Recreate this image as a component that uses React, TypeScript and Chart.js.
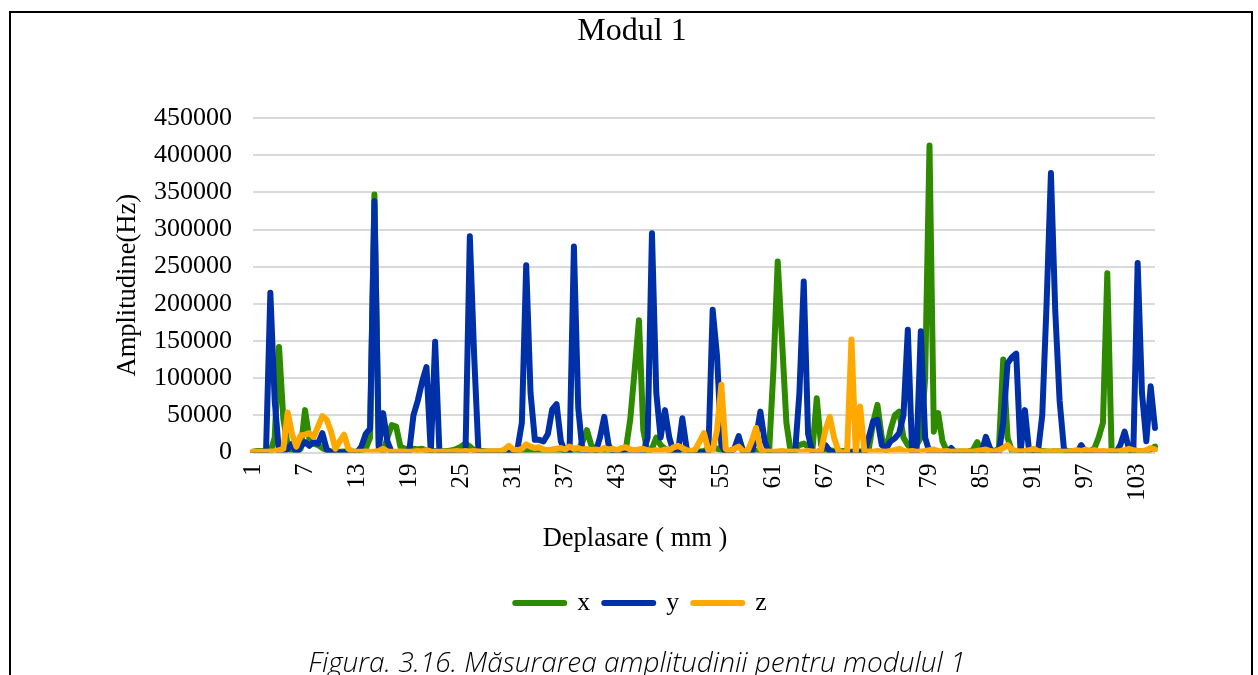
import React, { useEffect, useRef } from 'react';
import { Chart, registerables } from 'chart.js';

Chart.register(...registerables);

// Deplasare (mm) categories, step 0.5 mm
const CATEGORIES = [
  1, 1.5, 2, 2.5, 3, 3.5, 4, 4.5, 5, 5.5, 6, 6.5, 7, 7.5, 8, 8.5, 9, 9.5, 10, 10.5,
  11, 11.5, 12, 12.5, 13, 13.5, 14, 14.5, 15, 15.5, 16, 16.5, 17, 17.5, 18, 18.5, 19, 19.5, 20, 20.5,
  21, 21.5, 22, 22.5, 23, 23.5, 24, 24.5, 25, 25.5, 26, 26.5, 27, 27.5, 28, 28.5, 29, 29.5, 30, 30.5,
  31, 31.5, 32, 32.5, 33, 33.5, 34, 34.5, 35, 35.5, 36, 36.5, 37, 37.5, 38, 38.5, 39, 39.5, 40, 40.5,
  41, 41.5, 42, 42.5, 43, 43.5, 44, 44.5, 45, 45.5, 46, 46.5, 47, 47.5, 48, 48.5, 49, 49.5, 50, 50.5,
  51, 51.5, 52, 52.5, 53, 53.5, 54, 54.5, 55, 55.5, 56, 56.5, 57, 57.5, 58, 58.5, 59, 59.5, 60, 60.5,
  61, 61.5, 62, 62.5, 63, 63.5, 64, 64.5, 65, 65.5, 66, 66.5, 67, 67.5, 68, 68.5, 69, 69.5, 70, 70.5,
  71, 71.5, 72, 72.5, 73, 73.5, 74, 74.5, 75, 75.5, 76, 76.5, 77, 77.5, 78, 78.5, 79, 79.5, 80, 80.5,
  81, 81.5, 82, 82.5, 83, 83.5, 84, 84.5, 85, 85.5, 86, 86.5, 87, 87.5, 88, 88.5, 89, 89.5, 90, 90.5,
  91, 91.5, 92, 92.5, 93, 93.5, 94, 94.5, 95, 95.5, 96, 96.5, 97, 97.5, 98, 98.5, 99, 99.5, 100, 100.5,
  101, 101.5, 102, 102.5, 103, 103.5, 104, 104.5, 105,
];

const TICK_LABELS = ['1', '7', '13', '19', '25', '31', '37', '43', '49', '55', '61', '67', '73', '79', '85', '91', '97', '103'];

const SERIES_X = [
  1000, 2000, 2000, 1500, 0, 20000, 142000, 45000, 10000, 0,
  0, 5000, 57000, 18000, 12000, 10000, 6000, 3000, 1500, 1000,
  1000, 1500, 1000, 1000, 1500, 3000, 5000, 20000, 347000, 10000,
  0, 20000, 37000, 35000, 8000, 5000, 5000, 5000, 4000, 5000,
  3000, 2000, 2000, 1500, 2000, 2000, 3000, 5000, 8000, 12000,
  8000, 3000, 2000, 2000, 1500, 1000, 1500, 1000, 2000, 1500,
  2000, 1000, 1500, 2000, 3000, 2000, 3000, 2000, 1500, 2000,
  2000, 1500, 1000, 1500, 2000, 3000, 15000, 30000, 10000, 2000,
  1500, 2000, 1000, 1500, 1000, 2000, 5000, 45000, 110000, 178000,
  30000, 0, 5000, 20000, 10000, 5000, 3000, 2000, 3000, 2000,
  1500, 2000, 1000, 1500, 2000, 5000, 8000, 5000, 3000, 2000,
  2000, 5000, 20000, 3000, 2000, 1500, 2000, 1500, 1000, 0,
  110000, 257000, 150000, 40000, 0, 5000, 10000, 12000, 8000, 3000,
  73000, 10000, 2000, 3000, 2000, 1500, 2000, 1500, 1000, 2000,
  1500, 2000, 5000, 40000, 64000, 20000, 3000, 30000, 50000, 55000,
  20000, 10000, 5000, 10000, 20000, 100000, 413000, 28000, 53000, 15000,
  2000, 1500, 1000, 1500, 1000, 1500, 3000, 14000, 2000, 1500,
  1000, 2000, 5000, 125000, 20000, 2000, 1500, 1000, 1500, 1000,
  1500, 1000, 2000, 1500, 1000, 2000, 1500, 1000, 1500, 2000,
  1500, 1000, 1500, 2000, 5000, 20000, 40000, 241000, 0, 1500,
  2000, 1500, 2000, 3000, 2000, 1500, 2000, 4000, 8000,
];

const SERIES_Y = [
  0, 0, 0, 0, 215000, 70000, 0, 0, 5000, 12000,
  0, 8000, 14000, 9000, 14000, 12000, 26000, 4000, 0, 0,
  0, 0, 0, 0, 0, 8000, 25000, 32000, 338000, 5000,
  53000, 15000, 0, 0, 0, 0, 0, 50000, 70000, 95000,
  115000, 0, 149000, 0, 0, 0, 0, 0, 0, 0,
  291000, 130000, 0, 0, 0, 0, 0, 0, 0, 0,
  0, 5000, 40000, 252000, 80000, 17000, 17000, 15000, 25000, 58000,
  65000, 15000, 0, 0, 277000, 60000, 0, 0, 0, 0,
  20000, 48000, 10000, 0, 0, 0, 0, 0, 0, 0,
  0, 20000, 295000, 80000, 20000, 57000, 20000, 0, 0, 46000,
  5000, 0, 0, 0, 0, 0, 192000, 130000, 10000, 0,
  0, 5000, 22000, 0, 0, 0, 20000, 55000, 15000, 0,
  0, 0, 0, 0, 0, 0, 80000, 230000, 25000, 0,
  0, 3000, 10000, 2000, 0, 0, 0, 0, 0, 0,
  0, 0, 20000, 42000, 44000, 10000, 5000, 15000, 19000, 26000,
  50000, 165000, 0, 0, 163000, 20000, 0, 0, 0, 0,
  0, 6000, 0, 0, 0, 0, 0, 0, 0, 21000,
  5000, 0, 0, 40000, 120000, 128000, 133000, 0, 57000, 0,
  0, 0, 50000, 200000, 376000, 190000, 70000, 5000, 0, 0,
  0, 10000, 0, 0, 0, 0, 0, 0, 0, 0,
  10000, 28000, 5000, 0, 255000, 80000, 15000, 89000, 33000,
];

const SERIES_Z = [
  1000, 1000, 1000, 1000, 1500, 1500, 3000, 5000, 54000, 25000,
  8000, 23000, 24000, 26000, 21000, 35000, 49000, 44000, 28000, 5000,
  15000, 24000, 5000, 1500, 1000, 1000, 1500, 1000, 1000, 2000,
  5000, 1500, 1000, 1000, 1500, 1000, 1000, 1500, 2000, 1500,
  3000, 1500, 1000, 1000, 1500, 1000, 1500, 2000, 1500, 2000,
  1500, 2000, 1500, 1000, 1500, 2000, 1500, 2000, 4000, 9000,
  4000, 3000, 5000, 11000, 8000, 6000, 7000, 4000, 3000, 4000,
  5000, 6000, 4000, 8000, 5000, 6000, 4000, 5000, 3000, 4000,
  3000, 6000, 4000, 5000, 3000, 6000, 7000, 4000, 3000, 4000,
  5000, 3000, 2000, 3000, 2000, 4000, 3000, 7000, 9000, 6000,
  3000, 2000, 4000, 15000, 26000, 3000, 3000, 30000, 91000, 5000,
  1000, 5000, 8000, 2000, 1000, 15000, 33000, 5000, 1000, 1500,
  1000, 1500, 2000, 1500, 1000, 1500, 1000, 1500, 2000, 1500,
  1000, 3000, 30000, 48000, 20000, 2000, 0, 0, 152000, 0,
  62000, 1000, 1500, 1000, 2000, 1500, 1000, 2000, 3000, 5000,
  2000, 1500, 2000, 1000, 1500, 2000, 3000, 4000, 2000, 1500,
  2000, 1000, 1500, 1000, 2000, 1500, 1000, 2000, 3000, 4000,
  2000, 1500, 3000, 6000, 10000, 4000, 2000, 1500, 2000, 3000,
  5000, 2000, 1500, 1000, 1500, 2000, 1500, 1000, 1500, 2000,
  3000, 2000, 4000, 2000, 3000, 1500, 2000, 1500, 2000, 1500,
  2000, 3000, 5000, 3000, 2000, 1500, 3000, 6000, 4000,
];

const SERIES_NAMES = ['x', 'y', 'z'];
const SERIES_COLORS = ['#2E8B00', '#0030A8', '#FFA800'];
const Y_MAX = 450000;
const Y_STEP = 50000;
const TITLE = 'Modul 1';
const X_TITLE = 'Deplasare ( mm )';
const Y_TITLE = 'Amplitudine(Hz)';
const CAPTION = 'Figura. 3.16. Măsurarea amplitudinii pentru modulul 1';

const SERIF = '"Liberation Serif", "Times New Roman", serif';
const LINE_W = 6;

const xTitlePlugin = {
  id: 'xTitleCenter',
  afterDraw(chart: any) {
    const ctx = chart.ctx;
    ctx.save();
    ctx.font = `26.5px ${SERIF}`;
    ctx.fillStyle = '#000';
    ctx.textAlign = 'center';
    ctx.textBaseline = 'middle';
    ctx.fillText(X_TITLE, 635, 539);
    ctx.restore();
  },
};

// nudge the legend row to the right, as in the reference
const legendShiftPlugin = {
  id: 'legendShift',
  afterUpdate(chart: any) {
    const lg = chart.legend;
    if (lg) {
      lg.left += 9;
      lg.right += 9;
    }
  },
};

export default function App() {
  const canvasRef = useRef<HTMLCanvasElement | null>(null);

  useEffect(() => {
    const canvas = canvasRef.current;
    if (!canvas) return;
    const seriesData = [SERIES_X, SERIES_Y, SERIES_Z];
    const chart = new Chart(canvas, {
      type: 'line',
      data: {
        labels: CATEGORIES.map((c) => String(c)),
        datasets: seriesData.map((d, i) => ({
          label: SERIES_NAMES[i],
          data: d,
          borderColor: SERIES_COLORS[i],
          backgroundColor: SERIES_COLORS[i],
          borderWidth: LINE_W,
          borderCapStyle: 'round',
          borderJoinStyle: 'round',
          pointRadius: 0,
          pointHoverRadius: 0,
          tension: 0,
          fill: false,
          order: 3 - i,
        })),
      },
      options: {
        responsive: false,
        animation: false,
        devicePixelRatio: 1,
        events: [],
        layout: { padding: { left: 109, right: 103, top: 0, bottom: 49 } },
        plugins: {
          title: {
            display: true,
            text: TITLE,
            color: '#000',
            font: { family: SERIF, size: 32, weight: 'normal' },
            padding: { top: 12, bottom: 67.6 },
          },
          legend: {
            display: true,
            position: 'bottom',
            labels: {
              usePointStyle: true,
              pointStyle: 'line',
              pointStyleWidth: 49,
              color: '#000',
              padding: 14,
              font: { family: SERIF, size: 26 },
              generateLabels: (ch: any) =>
                ch.data.datasets.map((ds: any, i: number) => ({
                  text: ds.label,
                  fillStyle: ds.borderColor,
                  strokeStyle: ds.borderColor,
                  lineWidth: LINE_W,
                  lineCap: 'round',
                  pointStyle: 'line',
                  fontColor: '#000',
                  hidden: false,
                  datasetIndex: i,
                })),
            },
          },
          tooltip: { enabled: false },
        },
        scales: {
          x: {
            type: 'category',
            offset: false,
            grid: { display: false },
            border: { display: false },
            ticks: {
              autoSkip: false,
              minRotation: 90,
              maxRotation: 90,
              padding: 3,
              color: '#000',
              font: { family: SERIF, size: 25 },
              callback: (_v: any, index: number) => {
                const c = String(CATEGORIES[index]);
                return TICK_LABELS.includes(c) ? c : null;
              },
            },
            afterFit: (scale: any) => {
              scale.height = 123.5;
            },
          },
          y: {
            min: 0,
            max: Y_MAX,
            grid: { color: '#D9D9D9', lineWidth: 2, drawTicks: false },
            border: { display: false },
            ticks: {
              stepSize: Y_STEP,
              padding: 21,
              color: '#000',
              font: { family: SERIF, size: 26 },
              callback: (v: any) => String(v),
            },
            title: {
              display: true,
              text: Y_TITLE,
              color: '#000',
              font: { family: SERIF, size: 26.5 },
              padding: { top: 3, bottom: 0 },
            },
            afterFit: (scale: any) => {
              scale.width = 144;
            },
          },
        },
      } as any,
      plugins: [xTitlePlugin, legendShiftPlugin],
    });
    return () => chart.destroy();
  }, []);

  return (
    <div
      style={{
        position: 'fixed',
        left: 0,
        top: 0,
        width: 1258,
        height: 675,
        background: '#fff',
        overflow: 'hidden',
      }}
    >
      <canvas
        ref={canvasRef}
        width={1258}
        height={675}
        style={{ position: 'absolute', left: 0, top: 0, width: 1258, height: 675 }}
      />
      <div
        style={{
          position: 'absolute',
          left: 9,
          top: 11,
          width: 1244,
          height: 720,
          border: '2px solid #000',
          boxSizing: 'border-box',
          pointerEvents: 'none',
        }}
      />
      <div
        style={{
          position: 'absolute',
          left: 8,
          top: 644,
          width: 1258,
          textAlign: 'center',
          fontFamily: '"Open Sans", "Noto Sans", sans-serif',
          fontStyle: 'italic',
          fontWeight: 300,
          fontSize: 28,
          lineHeight: '34px',
          color: '#000',
          whiteSpace: 'nowrap',
        }}
      >
        {CAPTION}
      </div>
    </div>
  );
}
